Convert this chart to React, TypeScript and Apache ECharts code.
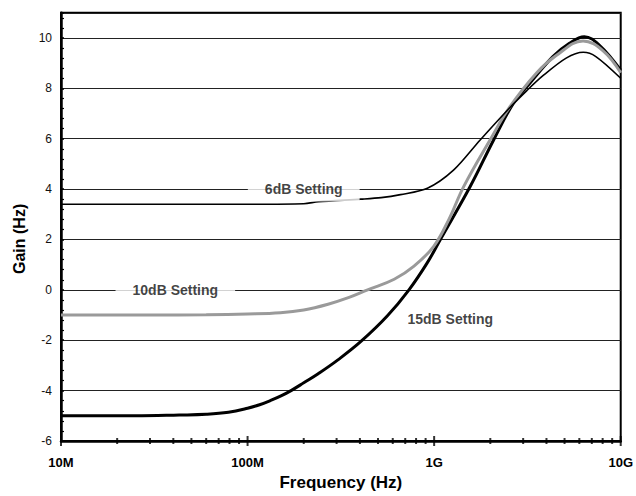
import React, { useEffect, useRef } from "react";
import * as echarts from "echarts";

// ---- data ----
const xTickValues = [1e7, 1e8, 1e9, 1e10];
const xTickLabels = ["10M", "100M", "1G", "10G"];
const xMinorTicks = [
  2e7, 3e7, 4e7, 5e7, 6e7, 7e7, 8e7, 9e7,
  2e8, 3e8, 4e8, 5e8, 6e8, 7e8, 8e8, 9e8,
  2e9, 3e9, 4e9, 5e9, 6e9, 7e9, 8e9, 9e9,
];

const freq6 = [1e7, 3e7, 1e8, 2e8, 2.4e8, 4.05e8, 5.2e8, 6.6e8, 9.2e8, 1.27e9, 1.76e9, 2.52e9, 3.13e9, 3.83e9, 5.1e9, 6.3e9, 7.36e9, 1e10];
const gain6 = [3.4, 3.4, 3.4, 3.42, 3.5, 3.6, 3.66, 3.78, 4.03, 4.75, 5.94, 7.2, 7.9, 8.5, 9.2, 9.43, 9.26, 8.4];

const freq10 = [1e7, 3e7, 6e7, 1e8, 1.5e8, 2e8, 2.7e8, 3.5e8, 4.4e8, 6.11e8, 7.8e8, 9.95e8, 1.2e9, 1.44e9, 1.99e9, 2.55e9, 3.53e9, 4.51e9, 6.28e9, 8.02e9, 1e10];
const gain10 = [-1.0, -1.0, -0.99, -0.96, -0.91, -0.8, -0.57, -0.3, 0.0, 0.42, 0.94, 1.73, 2.8, 4.1, 5.94, 7.27, 8.6, 9.3, 9.88, 9.5, 8.62];

const freq15 = [1e7, 2.5e7, 4.3e7, 6e7, 7.9e7, 1e8, 1.16e8, 1.34e8, 1.52e8, 1.71e8, 2.01e8, 2.39e8, 3.05e8, 4.05e8, 5.62e8, 7.33e8, 9.18e8, 1.08e9, 1.56e9, 2.08e9, 2.65e9, 3.13e9, 4.33e9, 5.31e9, 6.38e9, 7.67e9, 1e10];
const gain15 = [-5.0, -5.0, -4.97, -4.94, -4.86, -4.7, -4.56, -4.38, -4.2, -4.0, -3.68, -3.33, -2.78, -2.05, -1.03, 0.0, 1.07, 2.0, 4.1, 5.94, 7.39, 8.05, 9.26, 9.79, 10.05, 9.72, 8.72];

const annotationTexts = ["6dB Setting", "10dB Setting", "15dB Setting"];
const annotationFreq = [2.0e8, 4.1e7, 1.22e9];
const annotationGain = [4, 0, -1.17];

const yMin = -6;
const yMax = 11;

const FONT = "'Liberation Sans', Arial, Helvetica, sans-serif";

function zip(xs: number[], ys: number[]) {
  return xs.map((x, i) => [x, ys[i]]);
}

export default function App() {
  const ref = useRef<HTMLDivElement>(null);

  useEffect(() => {
    if (!ref.current) return;
    const chart = echarts.init(ref.current, undefined, { renderer: "svg" });

    const labelPads = [
      [1, 17, 10, 17],
      [12, 17, 1, 17],
      [2, 4, 2, 4],
    ];

    chart.setOption({
      animation: false,
      backgroundColor: "#fff",
      grid: {
        left: 61,
        right: 11,
        top: 12.75,
        bottom: 54,
        show: true,
        borderColor: "#000",
        borderWidth: 2,
        backgroundColor: "transparent",
      },
      xAxis: {
        type: "log",
        logBase: 10,
        min: 1e7,
        max: 1e10,
        splitNumber: 3,
        name: "Frequency (Hz)",
        nameLocation: "middle",
        nameGap: 33,
        nameTextStyle: { fontFamily: FONT, fontSize: 17, fontWeight: "bold", color: "#000" },
        axisLine: { show: true, onZero: false, lineStyle: { color: "#000", width: 2.5 } },
        axisTick: { show: false },
        splitLine: { show: false },
        axisLabel: {
          fontFamily: FONT,
          fontSize: 13,
          fontWeight: "bold",
          color: "#000",
          margin: 15,
          formatter: (v: number) => {
            const i = xTickValues.findIndex((t) => Math.abs(Math.log10(t) - Math.log10(v)) < 1e-6);
            return i >= 0 ? xTickLabels[i] : "";
          },
        },
      },
      yAxis: {
        type: "value",
        min: yMin,
        max: yMax,
        interval: 2,
        name: "Gain (Hz)",
        nameLocation: "middle",
        nameGap: 34,
        nameRotate: 90,
        nameTextStyle: {
          fontFamily: FONT,
          fontSize: 16,
          fontWeight: "bold",
          color: "#000",
          padding: [0, 24, 0, 0],
        },
        axisLine: { show: true, onZero: false, lineStyle: { color: "#000", width: 2.5 } },
        axisTick: { show: true, inside: true, length: 3, lineStyle: { color: "#000", width: 1.5 } },
        minorTick: { show: true, splitNumber: 5, length: 3, lineStyle: { color: "#000", width: 1.2 } },
        splitLine: { show: true, lineStyle: { color: "#222", width: 1 } },
        axisLabel: {
          fontFamily: FONT,
          fontSize: 12,
          color: "#111",
          margin: 9,
          formatter: (v: number) => (v > 10 ? "" : String(v)),
        },
      },
      series: [
        {
          name: "15dB Setting",
          type: "line",
          data: zip(freq15, gain15),
          showSymbol: false,
          smooth: 0.4,
          lineStyle: { color: "#000", width: 3 },
          z: 3,
        },
        {
          name: "10dB Setting",
          type: "line",
          data: zip(freq10, gain10),
          showSymbol: false,
          smooth: 0.4,
          lineStyle: { color: "#9a9a9a", width: 3 },
          z: 4,
        },
        {
          name: "6dB Setting",
          type: "line",
          data: zip(freq6, gain6),
          showSymbol: false,
          smooth: 0.3,
          lineStyle: { color: "#000", width: 1.6 },
          z: 5,
        },
        {
          name: "minorTicks",
          type: "scatter",
          data: xMinorTicks.map((f) => [f, yMin]),
          symbol: "rect",
          symbolSize: [2, 6],
          itemStyle: { color: "#000" },
          silent: true,
          clip: false,
          z: 6,
        },
        {
          name: "majorTicks",
          type: "scatter",
          data: xTickValues.map((f) => [f, yMin]),
          symbol: "rect",
          symbolSize: [2, 10],
          itemStyle: { color: "#000" },
          silent: true,
          clip: false,
          z: 6,
        },
        {
          name: "annotations",
          type: "scatter",
          data: annotationTexts.map((t, i) => ({
            name: t,
            value: [annotationFreq[i], annotationGain[i]],
            label: { padding: labelPads[i] },
          })),
          symbolSize: 0,
          silent: true,
          z: 7,
          label: {
            show: true,
            position: "inside",
            formatter: "{b}",
            fontFamily: FONT,
            fontSize: 14,
            fontWeight: "bold",
            color: "#111",
            backgroundColor: "#fff",
          },
        },
      ],
    });

    return () => chart.dispose();
  }, []);

  return (
    <div
      ref={ref}
      style={{ position: "fixed", left: 0, top: 0, width: 636, height: 496, background: "#fff" }}
    />
  );
}
